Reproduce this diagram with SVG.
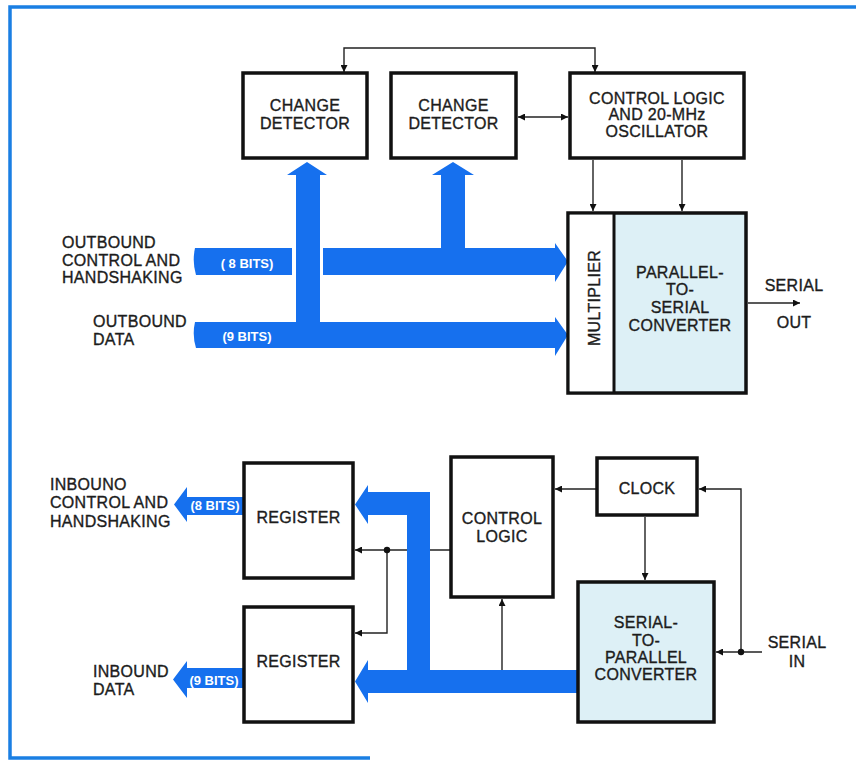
<svg xmlns="http://www.w3.org/2000/svg" width="856" height="761" viewBox="0 0 856 761">
<defs>
<style>
.t{font-family:"Liberation Sans",Arial,sans-serif;font-size:16px;fill:#1c1c1c;stroke:#1c1c1c;stroke-width:0.35;letter-spacing:0.3px}
.m{text-anchor:middle}
.w{font-family:"Liberation Sans",Arial,sans-serif;font-weight:bold;font-size:13px;fill:#ffffff;text-anchor:middle}
.box{fill:#ffffff;stroke:#111;stroke-width:3.5}
.conv{fill:#ddf0f6;stroke:#111;stroke-width:3.5}
.ln{fill:none;stroke:#222;stroke-width:1.4}
.bus{fill:#1670ee}
.brd{fill:none;stroke:#1a7fe3;stroke-width:3.5}
</style>
<marker id="ah" viewBox="0 0 10 10" refX="10" refY="5" markerWidth="9" markerHeight="7" markerUnits="userSpaceOnUse" orient="auto-start-reverse">
<path d="M0,0 L10,5 L0,10 Z" fill="#111"/>
</marker>
</defs>
<rect width="856" height="761" fill="#ffffff"/>
<!-- border -->
<path class="brd" d="M856,7 L10,7 L10,758 L370,758"/>

<!-- connectors -->
<g id="connectors">
<path class="ln" d="M595,72 L595,48 L344,48 L344,72" marker-start="url(#ah)" marker-end="url(#ah)"/>
<path class="ln" d="M518,117 L568,117" marker-start="url(#ah)" marker-end="url(#ah)"/>
<path class="ln" d="M593,160 L593,211" marker-end="url(#ah)"/>
<path class="ln" d="M682,160 L682,211" marker-end="url(#ah)"/>
<path class="ln" d="M748,303 L800,303" marker-end="url(#ah)"/>
<path class="ln" d="M597,489 L555,489" marker-end="url(#ah)"/>
<path class="ln" d="M645,517 L645,580" marker-end="url(#ah)"/>
<path class="ln" d="M762,652 L716,652" marker-end="url(#ah)"/>
<path class="ln" d="M741,652 L741,489 L699,489" marker-end="url(#ah)"/>
<path class="ln" d="M451,550 L355,550" marker-end="url(#ah)"/>
<path class="ln" d="M387,550 L387,633 L355,633" marker-end="url(#ah)"/>
<path class="ln" d="M502,670 L502,599" marker-end="url(#ah)"/>
<circle cx="741" cy="652" r="3.2" fill="#111"/>
<circle cx="387" cy="550" r="3.2" fill="#111"/>
<!-- buses -->
<path class="bus" d="M195,248 L292,248 L292,275 L196,275 Q192,262 195,248 Z"/>
<path class="bus" d="M323,248 L441,248 L441,175 L432,175 L453,162 L474,175 L465,175 L465,248 L555,248 L555,243 L568,261.5 L555,282 L555,275 L323,275 Z"/>
<path class="bus" d="M195,322 L296,322 L296,175 L287,175 L307,162 L327,175 L320,175 L320,322 L555,322 L555,317 L568,335 L555,356 L555,348 L196,348 Q192,335 195,322 Z"/>
<path class="bus" d="M244,497 L187,497 L187,487 L174,504.5 L187,522 L187,515 L244,515 Z"/>
<path class="bus" d="M244,668 L187,668 L187,661 L173,679.5 L187,698 L187,688 L244,688 Z"/>
<path class="bus" d="M578,670 L430,670 L430,492 L368,492 L368,485 L355,504.5 L368,524 L368,515 L407,515 L407,670 L368,670 L368,660 L355,681.5 L368,703 L368,693 L578,693 Z"/>
<text class="w" x="247" y="268">( 8 BITS)</text>
<text class="w" x="247" y="341">(9 BITS)</text>
<text class="w" x="215" y="510">(8 BITS)</text>
<text class="w" x="214" y="685">(9 BITS)</text>
</g>

<!-- nodes -->
<g id="change-detector-1">
<rect class="box" x="243" y="73" width="124" height="85"/>
<text class="t m" x="305" y="111">CHANGE</text>
<text class="t m" x="305" y="129">DETECTOR</text>
</g>
<g id="change-detector-2">
<rect class="box" x="391" y="73" width="125" height="85"/>
<text class="t m" x="453.5" y="111">CHANGE</text>
<text class="t m" x="453.5" y="129">DETECTOR</text>
</g>
<g id="control-logic-osc">
<rect class="box" x="570" y="73" width="174" height="85"/>
<text class="t m" x="657" y="104">CONTROL LOGIC</text>
<text class="t m" x="657" y="120">AND 20-MHz</text>
<text class="t m" x="657" y="137">OSCILLATOR</text>
</g>
<g id="multiplier-converter">
<rect class="conv" x="568" y="213" width="178" height="180"/>
<rect x="569.75" y="214.75" width="44.25" height="176.5" fill="#ffffff"/>
<line x1="614" y1="213" x2="614" y2="393" stroke="#111" stroke-width="3"/>
<text class="t m" transform="translate(600,298) rotate(-90)">MULTIPLIER</text>
<text class="t m" x="680" y="278">PARALLEL-</text>
<text class="t m" x="680" y="295">TO-</text>
<text class="t m" x="680" y="313">SERIAL</text>
<text class="t m" x="680" y="331">CONVERTER</text>
</g>
<g id="serial-out">
<text class="t m" x="794" y="291">SERIAL</text>
<text class="t m" x="794" y="328">OUT</text>
</g>
<g id="outbound-labels">
<text class="t" x="62" y="248">OUTBOUND</text>
<text class="t" x="62" y="266">CONTROL AND</text>
<text class="t" x="62" y="283">HANDSHAKING</text>
<text class="t" x="93" y="327">OUTBOUND</text>
<text class="t" x="93" y="345">DATA</text>
</g>
<g id="register-1">
<rect class="box" x="244" y="463" width="109" height="115"/>
<text class="t m" x="298.5" y="523">REGISTER</text>
</g>
<g id="register-2">
<rect class="box" x="244" y="607" width="109" height="115"/>
<text class="t m" x="298.5" y="667">REGISTER</text>
</g>
<g id="control-logic">
<rect class="box" x="451" y="457" width="102" height="140"/>
<text class="t m" x="502" y="524">CONTROL</text>
<text class="t m" x="502" y="542">LOGIC</text>
</g>
<g id="clock">
<rect class="box" x="597" y="458" width="100" height="57"/>
<text class="t m" x="647" y="494">CLOCK</text>
</g>
<g id="serial-parallel">
<rect class="conv" x="578" y="582" width="136" height="140"/>
<text class="t m" x="646" y="628">SERIAL-</text>
<text class="t m" x="646" y="646">TO-</text>
<text class="t m" x="646" y="663">PARALLEL</text>
<text class="t m" x="646" y="680">CONVERTER</text>
</g>
<g id="serial-in">
<text class="t m" x="797" y="648">SERIAL</text>
<text class="t m" x="797" y="667">IN</text>
</g>
<g id="inbound-labels">
<text class="t" x="50" y="490">INBOUNO</text>
<text class="t" x="50" y="508">CONTROL AND</text>
<text class="t" x="50" y="527">HANDSHAKING</text>
<text class="t" x="93" y="677">INBOUND</text>
<text class="t" x="93" y="695">DATA</text>
</g>
</svg>
